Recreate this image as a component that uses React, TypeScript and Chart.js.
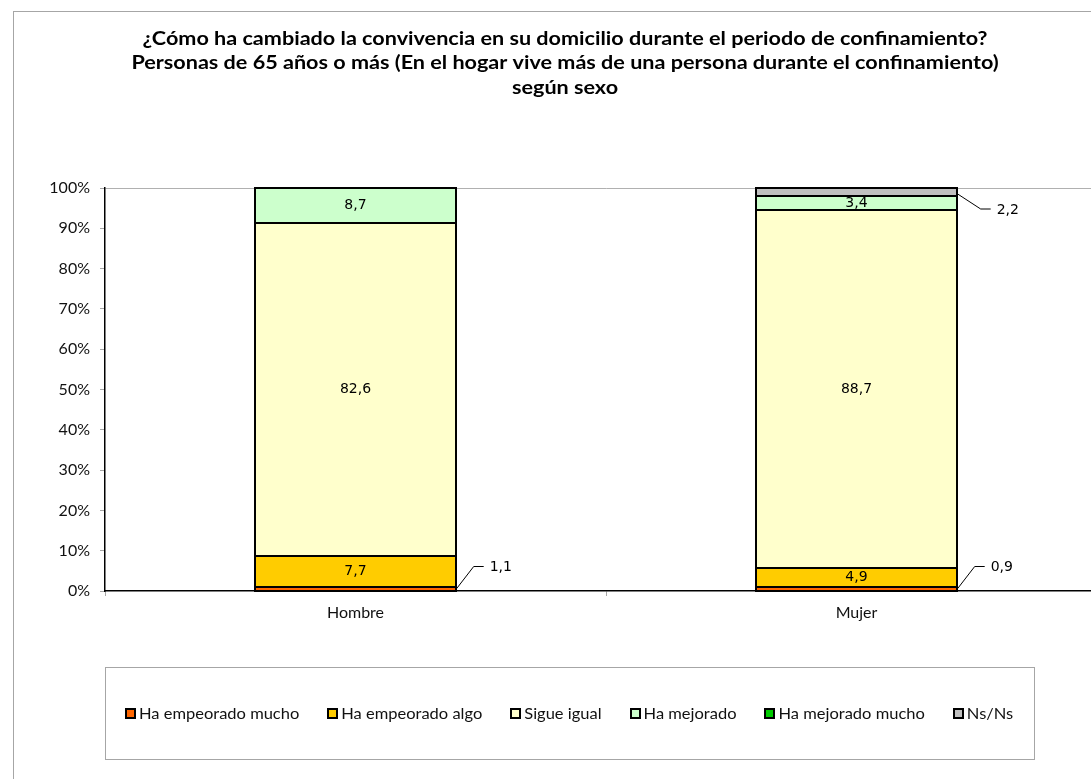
import React, { useEffect, useRef } from "react";
import { Chart, registerables } from "chart.js";

Chart.register(...registerables);

const titleLines = [
  "¿Cómo ha cambiado la convivencia en su domicilio durante el periodo de confinamiento?",
  "Personas de 65 años o más (En el hogar vive más de una persona durante el confinamiento)",
  "según sexo",
];
const categories = ["Hombre", "Mujer"];
const seriesNames = [
  "Ha empeorado mucho",
  "Ha empeorado algo",
  "Sigue igual",
  "Ha mejorado",
  "Ha mejorado mucho",
  "Ns/Ns",
];
const seriesColors = ["#FF6600", "#FFCC00", "#FFFFCC", "#CCFFCC", "#00CC00", "#C0C0C0"];
const empeoradoMucho = [1.1, 0.9];
const empeoradoAlgo = [7.7, 4.9];
const sigueIgual = [82.6, 88.7];
const haMejorado = [8.7, 3.4];
const mejoradoMucho: (number | null)[] = [null, null];
const nsNs: (number | null)[] = [null, 2.2];
const seriesValues = [empeoradoMucho, empeoradoAlgo, sigueIgual, haMejorado, mejoradoMucho, nsNs];
const yTicks = [0, 10, 20, 30, 40, 50, 60, 70, 80, 90, 100];

const LATO = "Lato, 'Noto Sans', sans-serif";
const LABEL_FONT = "14px 'DejaVu Sans', sans-serif";

const decorPlugin = {
  id: "decor",
  beforeDraw(chart: any) {
    const ctx = chart.ctx;
    ctx.save();
    ctx.fillStyle = "#fff";
    ctx.fillRect(0, 0, chart.width, chart.height);
    ctx.strokeStyle = "#a6a6a6";
    ctx.lineWidth = 1;
    ctx.strokeRect(13.5, 11.5, chart.width + 20, chart.height + 20);
    // title
    ctx.fillStyle = "#000";
    ctx.font = `bold 18px ${LATO}`;
    ctx.textAlign = "center";
    ctx.textBaseline = "middle";
    titleLines.forEach((t, i) => {
      ctx.save();
      ctx.translate(565, 39 + i * 24.5);
      ctx.scale(1.2, 1);
      ctx.fillText(t, 0, 0);
      ctx.restore();
    });
    // legend box
    ctx.strokeStyle = "#a6a6a6";
    ctx.lineWidth = 1;
    ctx.strokeRect(105.5, 667.5, 929, 92);
    ctx.font = `16px ${LATO}`;
    ctx.textAlign = "left";
    const gap = 29;
    const box = 9;
    const tgap = 4;
    const sx = 1.03;
    const widths = seriesNames.map((n) => box + tgap + ctx.measureText(n).width * sx);
    const total = widths.reduce((a, b) => a + b, 0) + gap * (widths.length - 1);
    let x = Math.round(570 - total / 2);
    const y = 714;
    seriesNames.forEach((n, i) => {
      const bx = Math.round(x);
      ctx.fillStyle = seriesColors[i];
      ctx.fillRect(bx, y - 5, box, box);
      ctx.strokeStyle = "#000";
      ctx.lineWidth = 2;
      ctx.strokeRect(bx, y - 5, box, box);
      ctx.fillStyle = "#111";
      ctx.save();
      ctx.translate(x + box + tgap, y);
      ctx.scale(sx, 1);
      ctx.fillText(n, 0, 0);
      ctx.restore();
      x += widths[i] + gap;
    });
    ctx.restore();
  },
  afterDatasetsDraw(chart: any) {
    const ctx = chart.ctx;
    const area = chart.chartArea;
    // segment outlines
    ctx.save();
    ctx.strokeStyle = "#000";
    ctx.lineWidth = 2;
    chart.data.datasets.forEach((ds: any, i: number) => {
      const meta = chart.getDatasetMeta(i);
      meta.data.forEach((bar: any, j: number) => {
        if (ds.data[j] == null) return;
        const l = Math.round(bar.x - bar.width / 2);
        const r = Math.round(bar.x + bar.width / 2);
        const t = Math.round(Math.max(bar.y, area.top));
        const b = Math.round(bar.base);
        ctx.strokeRect(l, t, r - l, b - t);
      });
    });
    ctx.restore();
    // labels
    ctx.save();
    ctx.font = LABEL_FONT;
    ctx.textBaseline = "middle";
    chart.data.datasets.forEach((ds: any, i: number) => {
      const meta = chart.getDatasetMeta(i);
      meta.data.forEach((bar: any, j: number) => {
        const v = ds.data[j];
        if (v == null) return;
        const txt = v.toFixed(1).replace(".", ",");
        const top = Math.max(bar.y, area.top);
        const cy = (top + bar.base) / 2;
        if (v >= 3) {
          ctx.fillStyle = "#000";
          ctx.textAlign = "center";
          ctx.fillText(txt, bar.x, cy);
        } else {
          const rx = bar.x + bar.width / 2 + 1;
          const up = cy > (area.top + area.bottom) / 2;
          const sy = up ? bar.base - 2 : area.top + 6;
          const ey = up ? sy - 22 : sy + 15;
          const ex = rx + (up ? 17 : 23);
          ctx.strokeStyle = "#000";
          ctx.lineWidth = 1;
          ctx.beginPath();
          ctx.moveTo(rx, sy);
          ctx.lineTo(ex, ey);
          ctx.lineTo(ex + 10, ey);
          ctx.stroke();
          ctx.fillStyle = "#000";
          ctx.textAlign = "left";
          ctx.fillText(txt, ex + 16, ey + 1);
        }
      });
    });
    ctx.restore();
  },
};

export default function App() {
  const ref = useRef<HTMLCanvasElement>(null);
  useEffect(() => {
    if (!ref.current) return;
    const chart = new Chart(ref.current, {
      type: "bar",
      data: {
        labels: categories,
        datasets: seriesNames.map((name, i) => ({
          label: name,
          data: seriesValues[i],
          backgroundColor: seriesColors[i],
          borderWidth: 0,
          barPercentage: 1,
          categoryPercentage: 0.4,
        })),
      },
      options: {
        animation: false,
        responsive: false,
        maintainAspectRatio: false,
        layout: { padding: { left: 0, top: 188, right: 23, bottom: 0 } },
        plugins: {
          legend: { display: false },
          title: { display: false },
          tooltip: { enabled: false },
        },
        scales: {
          x: {
            stacked: true,
            afterFit: (s: any) => {
              s.height = 779 - 591;
            },
            border: { color: "#000", width: 1.5 },
            grid: {
              drawOnChartArea: false,
              tickColor: "#a6a6a6",
              tickLength: 5,
            },
            ticks: { color: "#111", font: { family: LATO, size: 16 }, padding: 7 },
          },
          y: {
            stacked: true,
            min: 0,
            max: 100,
            afterFit: (s: any) => {
              s.width = 105;
            },
            afterBuildTicks: (s: any) => {
              s.ticks = yTicks.map((v) => ({ value: v }));
            },
            border: { color: "#000", width: 1.5 },
            grid: {
              color: (c: any) => (c.tick && c.tick.value === 100 ? "#b0b0b0" : "rgba(0,0,0,0)"),
              tickColor: "#a6a6a6",
              tickLength: 5,
            },
            ticks: {
              color: "#111",
              font: { family: LATO, size: 16 },
              padding: 10,
              callback: (v: any) => `${v}%`,
            },
          },
        },
      },
      plugins: [decorPlugin],
    });
    return () => chart.destroy();
  }, []);
  return (
    <div style={{ position: "fixed", left: 0, top: 0, width: 1091, height: 779, overflow: "hidden", background: "#fff" }}>
      <canvas ref={ref} width={1130} height={779} style={{ display: "block", width: 1130, height: 779 }} />
    </div>
  );
}
